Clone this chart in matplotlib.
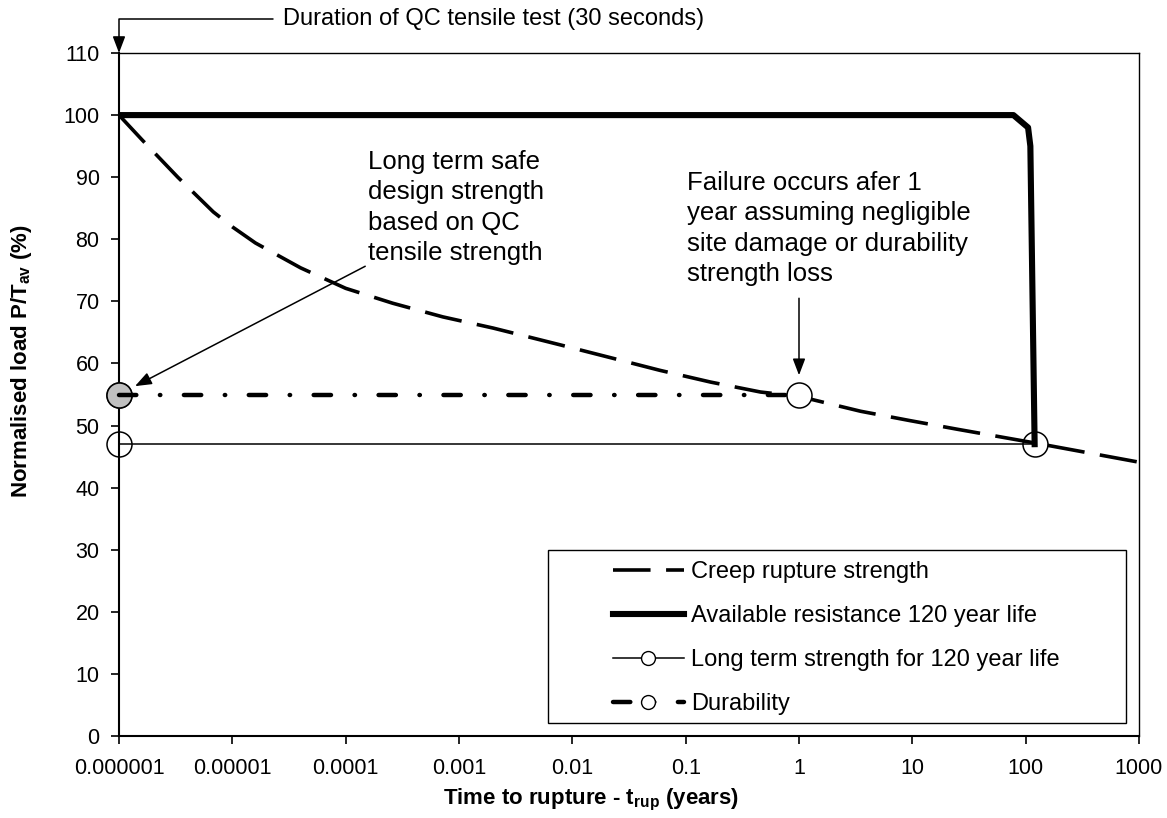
import matplotlib
matplotlib.use("Agg")
import matplotlib.pyplot as plt
from matplotlib.lines import Line2D
from matplotlib.patches import Rectangle

plt.rcParams['font.family'] = ['Liberation Sans', 'DejaVu Sans']
plt.rcParams['mathtext.fontset'] = 'custom'
plt.rcParams['mathtext.rm'] = 'Liberation Sans'
plt.rcParams['mathtext.bf'] = 'Liberation Sans:bold'

# ---------------------------------------------------------
# data
# ---------------------------------------------------------
creep_years = [1e-6, 1.6e-6, 3.3e-6, 6.8e-6, 1e-5, 1.6e-5, 4e-5, 1e-4, 2.6e-4,
               7.2e-4, 2e-3, 7.8e-3, 2.1e-2, 5.9e-2, 0.166, 0.457, 1, 3.5,
               9.5, 25, 120, 1000]
creep_load = [100, 96, 90, 84.4, 82, 79.4, 75.4, 72.1, 69.7, 67.5, 65.7, 63.0,
              61.0, 58.9, 57.0, 55.4, 54.7, 52.3, 50.8, 49.4, 47.2, 44.1]

avail_years = [1e-6, 78, 105, 110, 120]
avail_load = [100, 100, 98, 95, 47]

longterm_years = [1e-6, 120]
longterm_load = [47, 47]

durab_years = [1e-6, 1]
durab_load = [55, 55]

qc_year = [1e-6]
qc_load = [55]

xticks = [1e-6, 1e-5, 1e-4, 1e-3, 1e-2, 1e-1, 1, 10, 100, 1000]
xticklabels = ["0.000001", "0.00001", "0.0001", "0.001", "0.01", "0.1",
               "1", "10", "100", "1000"]
yticks = list(range(0, 111, 10))

legend_labels = ["Creep rupture strength",
                 "Available resistance 120 year life",
                 "Long term strength for 120 year life",
                 "Durability"]

W, H = 1167, 818
fig = plt.figure(figsize=(W / 100, H / 100), dpi=100)
ax = fig.add_axes([119 / W, 1 - 736 / H, 1020 / W, 683 / H])
ax.set_xscale('log')

creep_ls = (0, (10.4, 4.3))
durab_ls = (0, (3.9, 5.3, 0.1, 5.3))

ax.plot(creep_years, creep_load, color='black', lw=2.6, linestyle=creep_ls, zorder=3)
ax.plot(avail_years, avail_load, color='black', lw=4.4, solid_joinstyle='round', zorder=3)
ax.plot(longterm_years, longterm_load, color='black', lw=1.1, marker='o', ms=18,
        mfc='none', mec='black', mew=1.1, clip_on=False, zorder=4)
ax.plot(durab_years, durab_load, color='black', lw=3.2, linestyle=durab_ls,
        dash_capstyle='round', marker='o', ms=18, mfc='white', mec='black',
        mew=1.1, clip_on=False, zorder=4)
ax.plot(qc_year, qc_load, linestyle='none', marker='o', ms=18, mfc='#c0c0c0',
        mec='black', mew=1.1, clip_on=False, zorder=5)
# dash segment of durability line drawn over the grey marker
ax.plot([1e-6, 1.3e-6], qc_load * 2, color='black', lw=3.2, solid_capstyle='round',
        zorder=6, clip_on=False)

ax.set_xlim(1e-6, 1000)
ax.set_ylim(0, 110)
ax.set_xticks(xticks)
ax.set_xticklabels(xticklabels)
ax.minorticks_off()
ax.set_yticks(yticks)
ax.tick_params(direction='out', length=6, width=1.2, labelsize=15.5, pad=8)
ax.tick_params(axis='x', pad=10)

for s in ['left', 'bottom']:
    ax.spines[s].set_linewidth(1.5)
for s in ['top', 'right']:
    ax.spines[s].set_linewidth(1.0)

# axis labels
fig.text(591 / W, 1 - 800 / H, r"Time to rupture - t$_{\mathbf{rup}}$ (years)",
         ha='center', va='center', fontsize=16, fontweight='bold')
fig.text(22 / W, 1 - 361 / H, r"Normalised load P/T$_{\mathbf{av}}$ (%)",
         ha='center', va='center', rotation=90, fontsize=16, fontweight='bold')

# legend with its own frame
frame = Rectangle((429 / 1020, 13 / 683), 578 / 1020, 173 / 683, transform=ax.transAxes,
                  facecolor='white', edgecolor='black', lw=1.0, zorder=7)
ax.add_patch(frame)
handles = [
    Line2D([], [], color='black', lw=2.6, linestyle=creep_ls),
    Line2D([], [], color='black', lw=4.4),
    Line2D([], [], color='black', lw=1.1, marker='o', ms=10, mfc='white', mec='black'),
    Line2D([], [], color='black', lw=3.2, linestyle=durab_ls, dash_capstyle='round',
           marker='o', ms=10, mfc='white', mec='black'),
]
leg = ax.legend(handles, legend_labels, loc='upper left',
                bbox_to_anchor=((613 - 119) / 1020, (736 - 561) / 683),
                frameon=False, borderpad=0, borderaxespad=0, fontsize=17,
                handlelength=3.0, handletextpad=0.3, labelspacing=0.93, numpoints=1)
leg.set_zorder(8)

arrow = dict(arrowstyle='-|>,head_length=10,head_width=3.8', mutation_scale=1,
             color='black', lw=1.1, shrinkA=0, shrinkB=0)

# duration of QC test
ax.annotate("Duration of QC tensile test (30 seconds)", xy=(1e-6, 110), xycoords='data',
            xytext=(283, H - 19), textcoords='figure pixels', ha='left', va='center',
            fontsize=17, annotation_clip=False,
            arrowprops=dict(arrow, connectionstyle='angle,angleA=0,angleB=90,rad=0',
                            relpos=(0, 0.5), shrinkA=5))

# long term safe design strength
ax.annotate("Long term safe\ndesign strength\nbased on QC\ntensile strength",
            xy=(1e-6, 55), xycoords='data', xytext=(368, H - 150),
            textcoords='figure pixels', ha='left', va='top', fontsize=18.5,
            linespacing=1.33, arrowprops=dict(arrow, relpos=(0, 0), shrinkB=13))

# failure after one year
ax.text(687, H - 171, "Failure occurs afer 1\nyear assuming negligible\n"
        "site damage or durability\nstrength loss", transform=None,
        ha='left', va='top', fontsize=18.5, linespacing=1.34)
ax.annotate("", xy=(1, 58.1), xytext=(1, 70.5), arrowprops=arrow)

fig.savefig("out.png", dpi=100)
